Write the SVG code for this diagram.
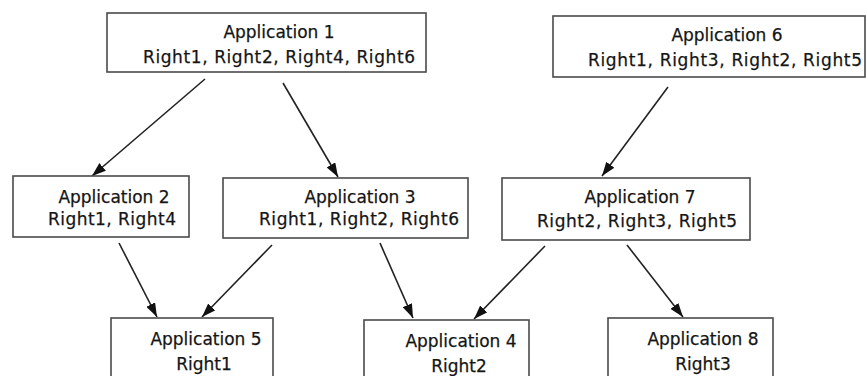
<svg xmlns="http://www.w3.org/2000/svg" width="866" height="376" viewBox="0 0 866 376">
  <style>
    .box { fill: #ffffff; stroke: #4a4a4a; stroke-width: 1.6; }
    .lbl { font-family: "DejaVu Sans", Verdana, sans-serif; font-size: 17px; fill: #151515; stroke: #151515; stroke-width: 0.25; text-anchor: middle; }
    .edge { stroke: #222222; stroke-width: 1.6; fill: none; marker-end: url(#arrow); }
  </style>
  <defs>
    <marker id="arrow" viewBox="0 0 14 10" refX="14" refY="5" markerWidth="14" markerHeight="10" markerUnits="userSpaceOnUse" orient="auto">
      <path d="M0,0 L14,5 L0,10 Z" fill="#111111"/>
    </marker>
  </defs>
  <rect width="866" height="376" fill="#ffffff"/>

  <g id="connectors">
    <line class="edge" x1="205" y1="79" x2="92" y2="176"/>
    <line class="edge" x1="283" y1="83" x2="338" y2="177"/>
    <line class="edge" x1="668" y1="87" x2="602" y2="176"/>
    <line class="edge" x1="119" y1="243" x2="157" y2="317"/>
    <line class="edge" x1="272" y1="245" x2="202" y2="317"/>
    <line class="edge" x1="380" y1="243" x2="413" y2="318"/>
    <line class="edge" x1="545" y1="246" x2="474" y2="319"/>
    <line class="edge" x1="627" y1="245" x2="683" y2="317"/>
  </g>

  <g id="app1">
    <rect class="box" x="107" y="13" width="319" height="59"/>
    <text class="lbl" x="279" y="38">Application 1</text>
    <text class="lbl" x="279" y="63" textLength="272" lengthAdjust="spacing">Right1, Right2, Right4, Right6</text>
  </g>
  <g id="app6">
    <rect class="box" x="553" y="16" width="312" height="61"/>
    <text class="lbl" x="727" y="41">Application 6</text>
    <text class="lbl" x="725" y="66" textLength="274" lengthAdjust="spacing">Right1, Right3, Right2, Right5</text>
  </g>
  <g id="app2">
    <rect class="box" x="13" y="176" width="176" height="61"/>
    <text class="lbl" x="114" y="203">Application 2</text>
    <text class="lbl" x="112" y="225" textLength="128" lengthAdjust="spacing">Right1, Right4</text>
  </g>
  <g id="app3">
    <rect class="box" x="223" y="178" width="245" height="60"/>
    <text class="lbl" x="360" y="203">Application 3</text>
    <text class="lbl" x="359" y="225" textLength="200" lengthAdjust="spacing">Right1, Right2, Right6</text>
  </g>
  <g id="app7">
    <rect class="box" x="502" y="178" width="248" height="62"/>
    <text class="lbl" x="640" y="203">Application 7</text>
    <text class="lbl" x="637" y="227" textLength="200" lengthAdjust="spacing">Right2, Right3, Right5</text>
  </g>
  <g id="app5">
    <rect class="box" x="111" y="318" width="162" height="70"/>
    <text class="lbl" x="206" y="345">Application 5</text>
    <text class="lbl" x="204" y="370">Right1</text>
  </g>
  <g id="app4">
    <rect class="box" x="364" y="320" width="165" height="70"/>
    <text class="lbl" x="461" y="347">Application 4</text>
    <text class="lbl" x="459" y="372">Right2</text>
  </g>
  <g id="app8">
    <rect class="box" x="608" y="318" width="165" height="70"/>
    <text class="lbl" x="703" y="345">Application 8</text>
    <text class="lbl" x="703" y="370">Right3</text>
  </g>
</svg>
